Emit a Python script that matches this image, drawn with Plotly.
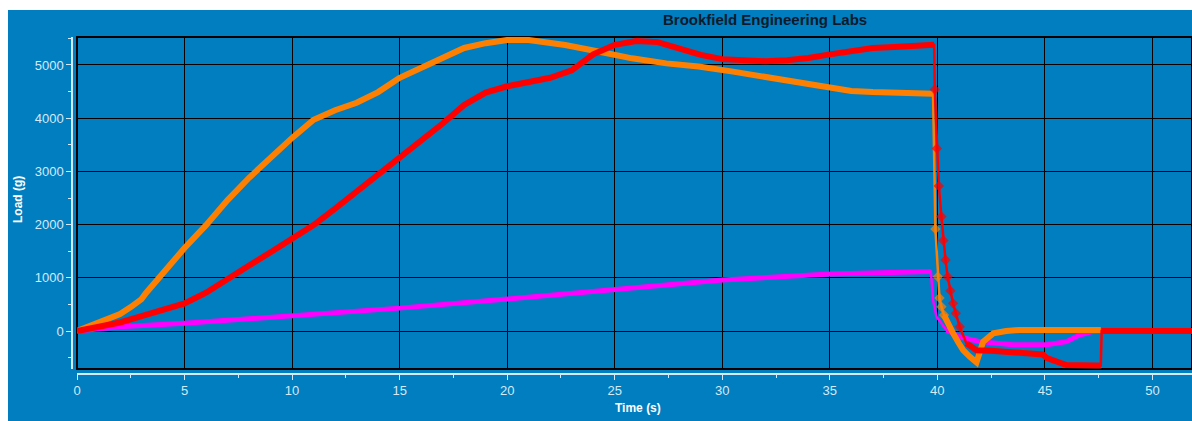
import plotly.graph_objects as go

# ---- measured load curves (time in s, load in g) ----
time_orange = [0, 0.5, 1, 1.5, 2, 2.5, 3, 3.2, 3.66, 4, 4.5, 5, 6, 7, 8, 9, 10, 11, 12, 13, 14, 15,
               16, 17, 18, 19, 20, 21, 22, 22.7, 24.3, 25.8, 27.4, 28.9, 30.5, 32, 33.6, 35, 36,
               37, 38, 39, 39.8, 39.91, 40.02, 40.1, 40.19, 40.31, 40.5, 40.73, 41.0, 41.2, 41.5,
               41.82, 42.13, 42.6, 43.2, 43.8, 45, 46, 47, 47.6]
load_orange = [0, 80, 170, 240, 320, 450, 600, 710, 930, 1110, 1340, 1560, 1990, 2460, 2880, 3270,
               3630, 3970, 4150, 4290, 4490, 4760, 4940, 5130, 5320, 5410, 5470, 5470, 5410, 5375,
               5250, 5125, 5030, 4970, 4875, 4780, 4655, 4570, 4510, 4490, 4490, 4470, 4460, 1917,
               1020, 620, 457, 300, 130, -40, -230, -360, -480, -590, -200, -45, 0, 20, 20, 20,
               20, 20]

time_red = [0, 1, 2, 3, 4, 5, 6, 7, 8, 9, 10, 11, 12, 13, 14, 15, 16, 17, 18, 19, 20, 21, 22, 23,
            24, 25, 26, 27, 28, 29, 30, 31, 32, 33, 34, 35, 36, 37, 38, 39, 39.85, 39.88, 39.98,
            40.07, 40.19, 40.28, 40.38, 40.48, 40.61, 40.73, 40.86, 41.04, 41.35, 41.82, 42.5,
            43.5, 44.5, 44.9, 45.1, 45.7, 46.0, 47.4, 47.6, 47.64, 49, 51.85]
load_red = [0, 80, 160, 280, 390, 520, 720, 960, 1230, 1480, 1720, 1990, 2300, 2620, 2930, 3240,
            3580, 3900, 4250, 4480, 4600, 4680, 4760, 4900, 5200, 5380, 5450, 5430, 5300, 5190,
            5110, 5080, 5070, 5090, 5130, 5200, 5270, 5320, 5340, 5360, 5380, 4540, 3430, 2725,
            2150, 1700, 1335, 1020, 757, 520, 333, 80, -230, -360, -370, -390, -420, -440, -510,
            -610, -640, -650, -650, 0, 0, 0]

time_magenta = [0, 2, 5, 10, 15, 20, 25, 30, 35, 37, 39.7, 39.72, 39.8, 39.96, 40.42, 41.04,
                41.97, 43.5, 45.08, 46.0, 46.6, 47.2, 47.6]
load_magenta = [0, 80, 145, 280, 430, 600, 770, 960, 1070, 1100, 1120, 1020, 580, 270, 20, -110,
                -200, -260, -260, -200, -75, -10, 0]

x_ticks = [0, 5, 10, 15, 20, 25, 30, 35, 40, 45, 50]
y_ticks = [0, 1000, 2000, 3000, 4000, 5000]

# ---- page geometry (px) ----
W, H = 1192, 421
ML, MT, MB = 72, 37, 47
PW, PH = W - ML, H - MT - MB
BLUE = "#007EC0"
LIGHT = "#d4eaf8"


def px(x):
    return (x - ML) / PW


def py(y):
    return (H - MB - y) / PH


def thick_part(t, v, spans):
    """Keep only the densely sampled stretches, broken apart with gaps."""
    xs, ys = [], []
    for a, b in spans:
        for ti, vi in zip(t, v):
            if a <= ti <= b:
                xs.append(ti)
                ys.append(vi)
        xs.append(None)
        ys.append(None)
    return xs, ys


def add_series(fig, t, v, color, spans, thick, mark_span):
    sizes = [8 if mark_span and mark_span[0] <= ti <= mark_span[1] else 0 for ti in t]
    fig.add_trace(go.Scatter(x=t, y=v, mode="lines+markers",
                             line=dict(color=color, width=2.5),
                             marker=dict(symbol="diamond", size=sizes, color=color,
                                         line=dict(width=0)),
                             showlegend=False, hoverinfo="skip"))
    xs, ys = thick_part(t, v, spans)
    fig.add_trace(go.Scatter(x=xs, y=ys, mode="lines",
                             line=dict(color=color, width=thick),
                             showlegend=False, connectgaps=False, hoverinfo="skip"))


fig = go.Figure()
add_series(fig, time_magenta, load_magenta, "#ff00ff",
           [(0, 39.7), (40.4, 47.6)], 5, None)
add_series(fig, time_orange, load_orange, "#ff8000",
           [(0, 39.8), (40.3, 47.6)], 6, (39.85, 40.35))
add_series(fig, time_red, load_red, "#ff0000",
           [(0, 39.85), (41.2, 47.6), (47.64, 51.85)], 6, (39.86, 41.1))

axis_font = dict(family="Liberation Sans, Arial, sans-serif", size=13, color=LIGHT)

fig.update_layout(
    width=W, height=H,
    margin=dict(l=ML, r=0, t=MT, b=MB, pad=0),
    paper_bgcolor="white",
    plot_bgcolor="rgba(0,0,0,0)",
    xaxis=dict(range=[0, 51.84], domain=[px(77), 1], anchor="free", position=0,
               tickvals=x_ticks, ticks="outside", ticklen=5, tickwidth=1, tickcolor=LIGHT,
               showline=True, linecolor=LIGHT, linewidth=1.5,
               showgrid=True, gridcolor="black", gridwidth=1.3, zeroline=False,
               minor=dict(dtick=2.5, ticks="outside", ticklen=3, tickcolor=LIGHT, showgrid=False),
               tickfont=axis_font),
    yaxis=dict(range=[-714, 5526], domain=[py(369), 1], anchor="free", position=0,
               tickvals=y_ticks, ticks="outside", ticklen=5, tickwidth=1, tickcolor=LIGHT,
               showline=True, linecolor=LIGHT, linewidth=1.5,
               showgrid=True, gridcolor="black", gridwidth=1.3, zeroline=False,
               minor=dict(dtick=500, ticks="outside", ticklen=3, tickcolor=LIGHT, showgrid=False),
               tickfont=axis_font),
    shapes=[
        dict(type="rect", xref="paper", yref="paper", layer="below",
             x0=px(8), x1=px(1200), y0=py(430), y1=py(10),
             fillcolor=BLUE, line=dict(width=0)),
        dict(type="rect", xref="x domain", yref="y domain", layer="below",
             x0=0, x1=1, y0=0, y1=1, line=dict(color="black", width=2)),
    ],
    annotations=[
        dict(text="<b>Brookfield Engineering Labs</b>", xref="paper", yref="paper",
             x=px(765), y=py(20), showarrow=False, xanchor="center", yanchor="middle",
             font=dict(family="Liberation Sans, Arial, sans-serif", size=15, color="#0b1a2b")),
        dict(text="<b>Time (s)</b>", xref="paper", yref="paper",
             x=px(638), y=py(408), showarrow=False, xanchor="center", yanchor="middle",
             font=dict(family="Liberation Sans, Arial, sans-serif", size=12, color="white")),
        dict(text="<b>Load (g)</b>", xref="paper", yref="paper", textangle=-90,
             x=px(18), y=py(200), showarrow=False, xanchor="center", yanchor="middle",
             font=dict(family="Liberation Sans, Arial, sans-serif", size=12, color="white")),
    ],
)

fig.write_html("out.html")
